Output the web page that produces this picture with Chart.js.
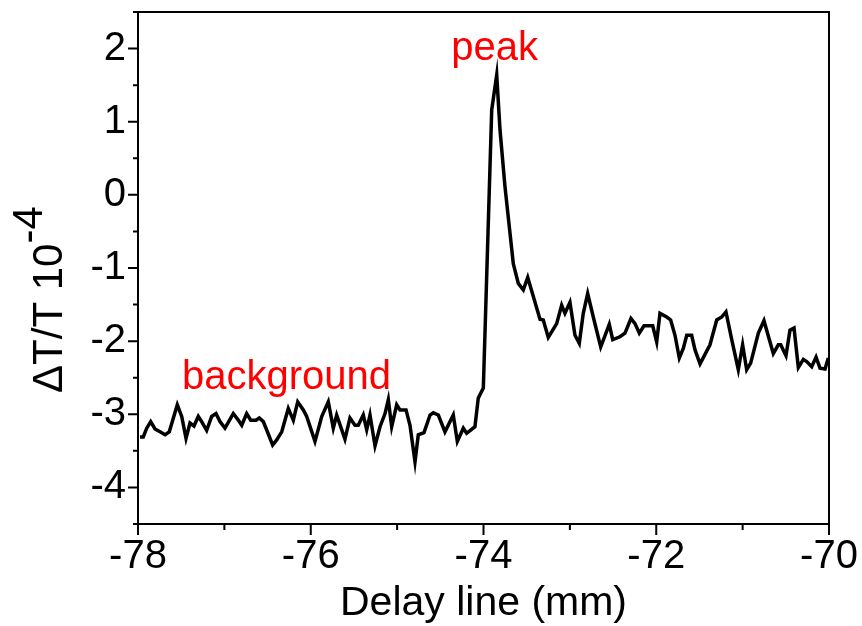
<!DOCTYPE html>
<html><head><meta charset="utf-8">
<script src="https://cdn.jsdelivr.net/npm/chart.js@4/dist/chart.umd.min.js"></script>
<style>html,body{margin:0;padding:0;background:#fff;}#wrap{width:862px;height:626px;position:relative;}</style>
</head><body><div id="wrap"><canvas id="c" width="862" height="626"></canvas></div>
<script>
const delayMm = [-77.977,-77.939,-77.899,-77.853,-77.803,-77.745,-77.687,-77.638,-77.545,-77.494,
-77.444,-77.398,-77.352,-77.302,-77.263,-77.205,-77.147,-77.097,-77.051,-76.993,
-76.897,-76.839,-76.799,-76.742,-76.695,-76.634,-76.596,-76.549,-76.441,-76.394,
-76.336,-76.260,-76.202,-76.151,-76.086,-76.047,-75.951,-75.873,-75.797,-75.739,
-75.700,-75.642,-75.604,-75.546,-75.488,-75.450,-75.392,-75.352,-75.314,-75.256,
-75.198,-75.140,-75.102,-75.063,-75.005,-74.967,-74.897,-74.851,-74.793,-74.755,
-74.689,-74.619,-74.581,-74.523,-74.446,-74.350,-74.303,-74.234,-74.195,-74.099,
-74.061,-74.002,-73.905,-73.847,-73.809,-73.751,-73.655,-73.597,-73.539,-73.488,
-73.423,-73.346,-73.308,-73.250,-73.153,-73.095,-73.057,-72.999,-72.941,-72.891,
-72.845,-72.794,-72.729,-72.643,-72.544,-72.504,-72.420,-72.362,-72.293,-72.246,
-72.196,-72.142,-72.092,-72.041,-71.995,-71.957,-71.879,-71.833,-71.783,-71.733,
-71.687,-71.647,-71.590,-71.551,-71.493,-71.378,-71.300,-71.242,-71.193,-71.126,
-71.050,-71.000,-70.953,-70.907,-70.818,-70.753,-70.645,-70.587,-70.559,-70.498,
-70.452,-70.405,-70.355,-70.297,-70.258,-70.200,-70.150,-70.104,-70.046,-70.008];
const deltaT = [-3.31,-3.31,-3.19,-3.10,-3.20,-3.24,-3.28,-3.24,-2.87,-3.03,
-3.33,-3.12,-3.16,-3.03,-3.10,-3.22,-3.03,-2.99,-3.10,-3.19,
-2.99,-3.08,-3.15,-2.99,-3.08,-3.08,-3.05,-3.10,-3.42,-3.35,
-3.24,-2.92,-3.08,-2.83,-2.94,-3.03,-3.37,-3.03,-2.83,-3.19,
-3.01,-3.21,-3.34,-3.05,-3.15,-3.15,-3.01,-3.21,-3.01,-3.43,
-3.17,-2.99,-2.80,-3.17,-2.87,-2.94,-2.94,-3.15,-3.65,-3.28,
-3.25,-3.01,-2.98,-3.01,-3.24,-3.01,-3.37,-3.19,-3.26,-3.17,
-2.78,-2.64,1.16,1.64,0.89,0.11,-0.94,-1.21,-1.30,-1.13,
-1.39,-1.70,-1.71,-1.95,-1.76,-1.51,-1.62,-1.47,-1.92,-2.03,
-1.62,-1.35,-1.67,-2.08,-1.77,-1.98,-1.94,-1.89,-1.69,-1.76,
-1.89,-1.79,-1.79,-1.79,-2.01,-1.62,-1.67,-1.71,-1.92,-2.23,
-2.10,-1.92,-1.92,-2.12,-2.31,-2.05,-1.71,-1.67,-1.60,-1.98,
-2.39,-2.05,-2.39,-2.30,-1.89,-1.72,-2.17,-2.05,-2.05,-2.20,
-1.85,-1.82,-2.36,-2.25,-2.28,-2.35,-2.22,-2.37,-2.38,-2.23];
const xMajorTicks = [-78, -76, -74, -72, -70];
const yMajorTicks = [-4, -3, -2, -1, 0, 1, 2];
const xTitle = 'Delay line (mm)';
const yTitleMain = '\u0394T/T 10';
const yTitleSup = '-4';
const labelPeak = 'peak';
const labelBackground = 'background';

const FONT = '"Liberation Sans", Arial, Helvetica, sans-serif';
const points = delayMm.map((x, i) => ({x: x, y: deltaT[i]}));

const decor = {
  id: 'decor',
  afterDraw(chart) {
    const {ctx, chartArea: a, scales: {x, y}} = chart;
    ctx.save();
    ctx.strokeStyle = '#000';
    ctx.lineWidth = 2;
    ctx.beginPath();
    ctx.moveTo(a.left, a.top); ctx.lineTo(a.right, a.top); ctx.lineTo(a.right, a.bottom);
    for (let v = x.min; v <= x.max + 1e-9; v += 1) {
      const p = x.getPixelForValue(v);
      const len = xMajorTicks.includes(v) ? 11 : 6;
      ctx.moveTo(p, a.bottom); ctx.lineTo(p, a.bottom + len);
    }
    for (let k = Math.round(y.min * 2); k <= Math.round(y.max * 2); k++) {
      const v = k / 2;
      const p = y.getPixelForValue(v);
      const len = yMajorTicks.includes(v) ? 10 : 5;
      ctx.moveTo(a.left - len, p); ctx.lineTo(a.left, p);
    }
    ctx.stroke();

    ctx.fillStyle = '#000';
    ctx.font = '41px ' + FONT;
    ctx.textAlign = 'center';
    ctx.textBaseline = 'middle';
    ctx.fillText(xTitle, (a.left + a.right) / 2, 604);

    ctx.save();
    ctx.translate(62, 393);
    ctx.rotate(-Math.PI / 2);
    ctx.font = '42px ' + FONT;
    ctx.textAlign = 'left';
    ctx.textBaseline = 'alphabetic';
    ctx.fillText(yTitleMain, 0, 0);
    const w = ctx.measureText(yTitleMain).width;
    ctx.fillText(yTitleSup, w, -20);
    ctx.restore();

    ctx.fillStyle = '#ff0000';
    ctx.font = '40px ' + FONT;
    ctx.textAlign = 'center';
    ctx.textBaseline = 'middle';
    ctx.fillText(labelPeak, x.getPixelForValue(-73.87), y.getPixelForValue(2.0));
    ctx.fillText(labelBackground, x.getPixelForValue(-76.28), y.getPixelForValue(-2.5));
    ctx.restore();
  }
};

new Chart(document.getElementById('c'), {
  type: 'scatter',
  data: {
    datasets: [{
      data: points,
      showLine: true,
      borderColor: '#000',
      borderWidth: 3.5,
      pointRadius: 0,
      tension: 0,
      fill: false
    }]
  },
  options: {
    responsive: false,
    animation: false,
    devicePixelRatio: 1,
    layout: {padding: {top: 12, right: 33, left: 0, bottom: 0}},
    plugins: {legend: {display: false}, tooltip: {enabled: false}},
    scales: {
      x: {
        type: 'linear', min: -78, max: -70,
        grid: {display: false, drawTicks: false},
        border: {display: true, color: '#000', width: 2},
        ticks: {
          stepSize: 1, padding: 9, color: '#000', maxRotation: 0, autoSkip: false,
          font: {family: FONT, size: 40},
          callback: v => xMajorTicks.includes(v) ? String(v) : ''
        },
        afterFit: s => { s.height = 102; s.paddingLeft = 0; s.paddingRight = 0; }
      },
      y: {
        type: 'linear', min: -4.5, max: 2.5,
        grid: {display: false, drawTicks: false},
        border: {display: true, color: '#000', width: 2},
        ticks: {
          stepSize: 0.5, padding: 12, color: '#000', autoSkip: false,
          font: {family: FONT, size: 40},
          callback: v => yMajorTicks.includes(v) ? String(v) : ''
        },
        afterFit: s => { s.width = 138; s.paddingTop = 0; s.paddingBottom = 0; }
      }
    }
  },
  plugins: [decor]
});
</script>
</body></html>
